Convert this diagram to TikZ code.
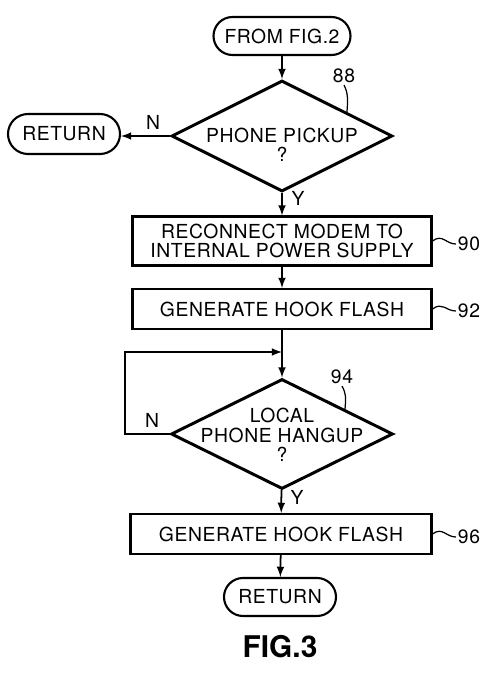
\documentclass[tikz,border=0pt]{standalone}
\usepackage{fontspec}
\setmainfont{TeX Gyre Heros}[LetterSpace=3]
\newfontfamily\figfont{TeX Gyre Heros}
\usetikzlibrary{shapes.geometric,calc}
\tikzset{
  term/.style={draw,line width=1.2pt,rounded corners=0.38cm,minimum height=0.76cm,inner sep=0pt},
  procbox/.style={draw,line width=1.2pt,minimum width=5.98cm,inner sep=0pt,align=center},
  decision/.style={draw,diamond,line width=1.7pt,minimum width=4.42cm,minimum height=2.22cm,inner sep=0pt},
  flow/.style={line width=1pt,-latex},
  lead/.style={line width=0.7pt},
  refnum/.style={inner sep=1pt},
}
\begin{document}
\begin{tikzpicture}[font=\fontsize{11}{11}\selectfont]
\useasboundingbox (0,0) rectangle (10,-13.52);
% terminals
\node[term,minimum width=2.74cm] (start) at (5.64,-0.72) {FROM FIG.2};
\node[term,minimum width=2.24cm,minimum height=0.8cm,rounded corners=0.4cm] (ret1) at (1.28,-2.68) {RETURN};
\node[term,minimum width=2.24cm] (ret2) at (5.6,-11.94) {RETURN};
% decisions
\node[decision] (d88) at (5.64,-2.72) {};
\node[align=center] (t88) at (5.64,-2.9) {PHONE PICKUP\\?};
\node[decision,minimum width=4.44cm,minimum height=2.2cm] (d94) at (5.64,-8.68) {};
\node[align=center] (t94) at (5.64,-8.7) {LOCAL\\PHONE HANGUP\\?};
% steps
\node[procbox,minimum height=0.98cm] (b90) at (5.64,-4.82) {RECONNECT MODEM TO\\INTERNAL POWER SUPPLY};
\node[procbox,minimum height=0.8cm] (b92) at (5.64,-6.18) {GENERATE HOOK FLASH};
\node[procbox,minimum height=0.8cm,minimum width=6.02cm] (b96) at (5.62,-10.68) {GENERATE HOOK FLASH};
% flow lines
\coordinate (loopc) at (2.5,-7.04);
\draw[flow] (start) -- (d88);
\draw[flow] (d88.west) -- (d88.west -| ret1.east);
\draw[flow] (d88) -- (b90);
\draw[flow] (b90) -- (b92);
\draw[flow] (b92) -- (d94);
\draw[flow] (d94.west) -| (loopc) -- (loopc -| d94.north);
\draw[flow] (d94) -- (b96);
\draw[flow] (b96) -- (ret2);
% branch letters
\node (n88) at (3.06,-2.44) {N};
\node (y88) at (5.96,-3.96) {Y};
\node (n94) at (3.04,-8.4) {N};
\node (y94) at (5.94,-9.94) {Y};
% reference numerals
\node[refnum] (l88) at (6.88,-1.52) {88};
\node[refnum] (l94) at (6.84,-7.54) {94};
\node[refnum] (l90) at (9.38,-4.88) {90};
\node[refnum] (l92) at (9.38,-6.22) {92};
\node[refnum] (l96) at (9.38,-10.74) {96};
\coordinate (e88) at ($(d88.north)!0.58!(d88.east)$);
\coordinate (e94) at ($(d94.north)!0.56!(d94.east)$);
\draw[lead] (e88) .. controls +(0.02,0.25) and +(0.08,-0.15) .. (l88.south);
\draw[lead] (e94) .. controls +(0.02,0.25) and +(0.08,-0.15) .. (l94.south);
\draw[lead] (b90.east) .. controls +(0.2,0.15) and +(-0.2,0) .. (l90.west);
\draw[lead] (b92.east) .. controls +(0.2,0.15) and +(-0.2,0) .. (l92.west);
\draw[lead] (b96.east) .. controls +(0.2,0.15) and +(-0.2,0) .. (l96.west);
\node[font=\fontsize{17}{17}\figfont\bfseries] (fig) at (5.6,-12.94) {FIG.3};
\end{tikzpicture}
\end{document}
